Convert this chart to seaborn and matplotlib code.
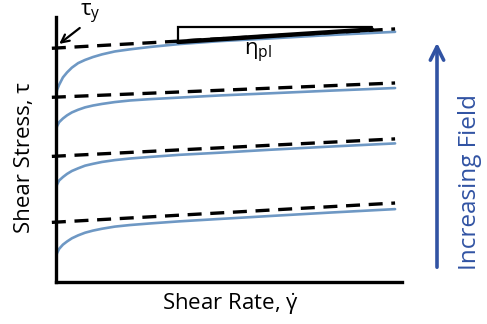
import matplotlib
matplotlib.use("Agg")
import matplotlib.pyplot as plt
import pandas as pd
import seaborn as sns

# Schematic Bingham-like flow curves (arbitrary units, axes span 0..10)
SHEAR_RATE = [0, 0.03, 0.09, 0.2, 0.32, 0.46, 0.64, 0.84, 1.07, 1.33,
              1.7, 2.14, 2.72, 3.58, 4.74, 6.18, 7.92, 9.8]

STRESS_1 = [7.02, 7.25, 7.44, 7.72, 7.91, 8.09, 8.26, 8.38, 8.49, 8.59,
            8.70, 8.78, 8.87, 8.98, 9.09, 9.19, 9.32, 9.44]
STRESS_2 = [5.73, 5.88, 6.03, 6.17, 6.29, 6.40, 6.50, 6.59, 6.66, 6.72,
            6.79, 6.85, 6.90, 6.96, 7.04, 7.12, 7.22, 7.32]
STRESS_3 = [3.54, 3.68, 3.83, 3.96, 4.08, 4.19, 4.29, 4.39, 4.46, 4.53,
            4.60, 4.66, 4.72, 4.80, 4.88, 4.99, 5.11, 5.23]
STRESS_4 = [0.94, 1.09, 1.25, 1.41, 1.53, 1.65, 1.76, 1.86, 1.94, 2.01,
            2.09, 2.15, 2.21, 2.29, 2.38, 2.49, 2.62, 2.75]

# Bingham asymptotes: stress at the two ends of each dashed line
ASYMPTOTE_X = [-0.12, 9.8]
ASYMPTOTES = {
    "1": [8.82, 9.55],
    "2": [6.97, 7.51],
    "3": [4.74, 5.40],
    "4": [2.25, 2.98],
}

# slope triangle for the plastic viscosity
TRI_X = [3.53, 3.53, 9.13]
TRI_Y = [9.06, 9.62, 9.62]
HYP_X = [3.53, 9.13]
HYP_Y = [9.06, 9.53]

CURVE_COLOR = "#6E98C4"
FIELD_COLOR = "#3153A3"

sns.set_theme(style="white")
plt.rcParams["font.family"] = ["Open Sans", "DejaVu Sans"]
plt.rcParams["text.color"] = "black"

fig = plt.figure(figsize=(4.87, 3.24), dpi=100)
ax = fig.add_axes([56 / 487, 42 / 324, 346 / 487, 265 / 324])

n = len(SHEAR_RATE)
curves = pd.DataFrame({
    "rate": SHEAR_RATE * 4,
    "stress": STRESS_1 + STRESS_2 + STRESS_3 + STRESS_4,
    "field": ["1"] * n + ["2"] * n + ["3"] * n + ["4"] * n,
})
asym = pd.DataFrame({
    "rate": ASYMPTOTE_X * 4,
    "stress": sum(ASYMPTOTES.values(), []),
    "field": sum([[k, k] for k in ASYMPTOTES], []),
})

sns.lineplot(data=curves, x="rate", y="stress", units="field", estimator=None,
             color=CURVE_COLOR, lw=1.9, sort=False, ax=ax)
for k, g in asym.groupby("field"):
    ax.plot(g["rate"], g["stress"], color="black", lw=2.4,
            dashes=(4.2, 2.6), clip_on=False, zorder=3)

ax.plot(TRI_X, TRI_Y, color="black", lw=1.6, zorder=4, solid_joinstyle="miter")
ax.plot(HYP_X, HYP_Y, color="black", lw=3.2, zorder=4)

ax.set_xlim(0, 10)
ax.set_ylim(0, 10)
ax.set_xticks([])
ax.set_yticks([])
ax.set_xlabel("")
ax.set_ylabel("")
for side in ("top", "right"):
    ax.spines[side].set_visible(False)
for side in ("left", "bottom"):
    ax.spines[side].set_color("black")
    ax.spines[side].set_linewidth(2.4)

# annotations
ax.text(5.84, 8.66, r"$\mathregular{\eta_{pl}}$", fontsize=16, ha="center", va="center")
ax.text(1.0, 10.12, r"$\mathregular{\tau_{y}}$", fontsize=16, ha="center", va="center",
        clip_on=False)
ax.annotate("", xy=(0.03, 8.92), xytext=(0.75, 9.65),
            arrowprops=dict(arrowstyle="->", color="black", lw=1.6, mutation_scale=14),
            annotation_clip=False)

fig.text(25 / 487, (324 - 158) / 324, "Shear Stress, τ", rotation=90,
         fontsize=16, ha="center", va="center")
fig.text(230 / 487, (324 - 304) / 324, r"Shear Rate, $\mathregular{\dot{\gamma}}$",
         fontsize=16, ha="center", va="center")

# increasing-field arrow
fig.add_artist(matplotlib.patches.FancyArrowPatch(
    (437 / 487, (324 - 270) / 324), (437 / 487, (324 - 40) / 324),
    transform=fig.transFigure, arrowstyle="->", mutation_scale=24,
    color=FIELD_COLOR, lw=2.6))
fig.text(470 / 487, (324 - 182) / 324, "Increasing Field", rotation=90,
         fontsize=17.5, color=FIELD_COLOR, ha="center", va="center")

fig.savefig("out.png", dpi=100)
